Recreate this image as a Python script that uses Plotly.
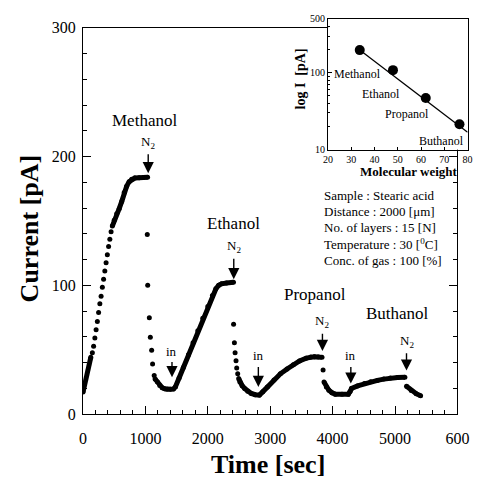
import plotly.graph_objects as go

# ---------------- response curve: time [s] vs current [pA] ----------------
# Densely sampled stretches (the dots merge into a thick trace)
meth_start_t = [0, 125]
meth_start_i = [17, 44]
meth_top_t = [470, 500, 540, 580, 620, 660, 700, 740, 780, 830, 900, 970, 1035]
meth_top_i = [146, 150.5, 155.5, 159.5, 165, 172, 177, 180.5, 182.3, 183.3, 183.6, 183.8, 183.9]
eth_t = [1155, 1193, 1230, 1270, 1310, 1348, 1400, 1450, 1480, 1540, 1608, 1690, 1763,
         1840, 1919, 2000, 2074, 2130, 2175, 2220, 2300, 2411]
eth_i = [27.2, 24.8, 22.2, 20.4, 19.6, 19.2, 19.2, 19.5, 21, 28, 36.2, 46, 55.3,
         64.7, 74.3, 83.5, 92, 97.3, 100, 101.1, 101.7, 102.3]
prop_t = [2495, 2514, 2550, 2592, 2640, 2697, 2760, 2826, 2880, 2955, 3060, 3163, 3270,
          3370, 3470, 3577, 3650, 3707, 3770, 3830]
prop_i = [27.5, 24.8, 22, 19.8, 17.6, 16, 15, 14.7, 17.2, 21, 26.5, 31.2, 35,
          38.3, 41.2, 43.4, 44.2, 44.4, 44.3, 44]
buth_t = [3862, 3900, 3940, 3990, 4043, 4150, 4251, 4280, 4303, 4400, 4510, 4610, 4718,
          4820, 4925, 5040, 5158]
buth_i = [24.8, 21, 18.5, 16.5, 15.4, 15.4, 15.4, 17.5, 19.8, 21.8, 23.6, 25, 26.1,
          27.1, 27.9, 28.3, 28.6]
tail_t = [5184, 5260, 5340, 5410]
tail_i = [21.5, 18.3, 15.8, 14.2]

# Sparse samples where the current changes fast (individual dots)
rise_t = [150, 170, 190, 210, 230, 250, 270, 290, 310, 330, 350, 370, 390, 410, 430, 450]
rise_i = [47.6, 52.7, 59, 65.4, 71.8, 78.8, 85.7, 91.5, 98.4, 104.7, 111.1, 117.4, 123.7,
          130.1, 135.7, 141.5]
fall1_t = [1030, 1037, 1063, 1079, 1100, 1115, 1141]
fall1_i = [139.5, 100, 74.8, 59.6, 49.5, 38.8, 29.9]
fall2_t = [2413, 2426, 2437, 2452, 2463, 2479]
fall2_i = [69.7, 55.3, 47.6, 41.3, 35.8, 31.2]
fall3_t = [3847]
fall3_i = [34.2]

# Gas switching marks: label, time, label height, arrow tip
mark_text = ["N<sub>2</sub>", "N<sub>2</sub>", "in", "in", "N<sub>2</sub>", "in", "N<sub>2</sub>"]
mark_t = [1045, 2416, 1426, 2810, 3837, 4292, 5184]
mark_label_i = [211, 130, 48.9, 45.1, 71.7, 45.1, 56.5]
mark_tip_i = [187, 104.7, 28.6, 21, 48.9, 23.6, 33.7]

# Gas names written over the curve
gas_names = ["Methanol", "Ethanol", "Propanol", "Buthanol"]
gas_name_t = [986, 2410, 3720, 5034]
gas_name_i = [227.8, 147.9, 93, 78]

# ---------------- inset: log I vs molecular weight ----------------
inset_mw = [33.6, 47.9, 62.0, 76.5]
inset_i = [197, 108, 47, 21.4]
fit_mw = [33.6, 80]
fit_i = [197, 16.8]

x_ticks = [0, 1000, 2000, 3000, 4000, 5000, 6000]
x_ticktext = ["0", "1000", "2000", "3000", "4000", "5000", "600"]

conditions = ["Sample : Stearic acid",
              "Distance : 2000 [\u03bcm]",
              "No. of layers : 15 [N]",
              "Temperature : 30 [<sup>0</sup>C]",
              "Conc. of gas : 100 [%]"]

# ---------------- page geometry (pixels) ----------------
W_PX, H_PX = 493, 481
L, R, T, B = 83, 10, 10, 67
AW, AH = W_PX - L - R, H_PX - T - B
AXB = H_PX - B  # bottom of plotting area in pixels


def xp(px):
    return (px - L) / AW


def yp(py):
    return (AXB - py) / AH


FONT = "Liberation Serif"


def joined(*pairs):
    xs, ys = [], []
    for t, i in pairs:
        if xs:
            xs.append(None)
            ys.append(None)
        xs += t
        ys += i
    return xs, ys


dense_x, dense_y = joined((meth_start_t, meth_start_i), (meth_top_t, meth_top_i),
                          (eth_t, eth_i), (prop_t, prop_i), (buth_t, buth_i),
                          (tail_t, tail_i))
dots_x = rise_t + fall1_t + fall2_t + fall3_t
dots_y = rise_i + fall1_i + fall2_i + fall3_i

fig = go.Figure()
fig.add_trace(go.Scatter(x=dense_x, y=dense_y, mode="lines+markers",
                         line=dict(color="black", width=5),
                         marker=dict(color="black", size=5),
                         hoverinfo="skip", showlegend=False))
fig.add_trace(go.Scatter(x=dots_x, y=dots_y, mode="markers",
                         marker=dict(color="black", size=5),
                         hoverinfo="skip", showlegend=False))

# inset
fig.add_trace(go.Scatter(x=fit_mw, y=fit_i, mode="lines", xaxis="x2", yaxis="y2",
                         line=dict(color="black", width=1.3),
                         hoverinfo="skip", showlegend=False))
fig.add_trace(go.Scatter(x=inset_mw, y=inset_i, mode="markers", xaxis="x2", yaxis="y2",
                         marker=dict(color="black", size=10),
                         hoverinfo="skip", showlegend=False))

ann = []
small = dict(family=FONT, size=13, color="black")
big = dict(family=FONT, size=17, color="black")

# switching marks: label with a down arrow to the curve
for txt, t, li, tip in zip(mark_text, mark_t, mark_label_i, mark_tip_i):
    ann.append(dict(x=t, y=tip, ax=t, ay=li, xref="x", yref="y", axref="x", ayref="y",
                    text=txt, font=small, showarrow=True, arrowhead=2, arrowsize=1.6,
                    arrowwidth=1.4, arrowcolor="black", startstandoff=2))

for txt, t, i in zip(gas_names, gas_name_t, gas_name_i):
    ann.append(dict(x=t, y=i, xref="x", yref="y", text=txt, showarrow=False,
                    font=big, xanchor="center", yanchor="middle"))

# inset labels
for txt, px, py in zip(gas_names, [340, 368.3, 392.3, 427.7], [66.7, 87.3, 108.3, 135]):
    ann.append(dict(x=xp(px), y=yp(py), xref="paper", yref="paper", text=txt,
                    showarrow=False, xanchor="left", yanchor="middle",
                    font=dict(family=FONT, size=12, color="black")))

# condition list
for txt, py in zip(conditions, [190.7, 207.3, 224, 240.3, 257.5]):
    ann.append(dict(x=xp(329), y=yp(py), xref="paper", yref="paper", text=txt,
                    showarrow=False, xanchor="left", yanchor="middle",
                    font=dict(family=FONT, size=13, color="black")))

# axis titles
ann.append(dict(x=xp(28), y=yp(225), xref="paper", yref="paper",
                text="<b>Current [pA]</b>", textangle=-90, showarrow=False,
                xanchor="center", yanchor="middle",
                font=dict(family=FONT, size=26, color="black")))
ann.append(dict(x=xp(274), y=yp(466), xref="paper", yref="paper",
                text="<b>Time [sec]</b>", showarrow=False,
                xanchor="center", yanchor="middle",
                font=dict(family=FONT, size=26, color="black")))
ann.append(dict(x=xp(306.7), y=yp(71.7), xref="paper", yref="paper",
                text="<b>log I  [pA]</b>", textangle=-90, showarrow=False,
                xanchor="center", yanchor="middle",
                font=dict(family=FONT, size=14, color="black")))
ann.append(dict(x=xp(419), y=yp(166.5), xref="paper", yref="paper",
                text="<b>Molecular weight</b>", showarrow=False,
                xanchor="center", yanchor="middle",
                font=dict(family=FONT, size=13, color="black")))

axis_common = dict(showgrid=False, zeroline=False, showline=True, linecolor="black",
                   linewidth=1.2, ticks="inside", tickcolor="black", tickwidth=1.2)

fig.update_layout(
    width=W_PX, height=H_PX,
    margin=dict(l=L, r=R, t=T, b=B, pad=0),
    paper_bgcolor="white", plot_bgcolor="white",
    font=dict(family=FONT, color="black"),
    xaxis=dict(axis_common, domain=[0, xp(469)], range=[0, 6000], mirror=True,
               tickvals=x_ticks, ticktext=x_ticktext, ticklen=8,
               tickfont=dict(family=FONT, size=16, color="black"),
               ticklabelstandoff=10,
               minor=dict(ticks="inside", ticklen=4, dtick=200, tick0=0,
                          tickcolor="black", tickwidth=1.2, showgrid=False)),
    yaxis=dict(axis_common, domain=[0, yp(20)], range=[0, 300], mirror="ticks",
               dtick=100, ticklen=8,
               tickfont=dict(family=FONT, size=16, color="black"),
               ticklabelstandoff=3,
               minor=dict(ticks="inside", ticklen=4, dtick=20, tick0=0,
                          tickcolor="black", tickwidth=1.2, showgrid=False)),
    xaxis2=dict(axis_common, domain=[xp(335.7), xp(479.5)], anchor="y2",
                range=[20, 80], dtick=10, mirror=True, ticklen=3, tickwidth=1,
                linewidth=1.2,
                tickfont=dict(family=FONT, size=10, color="black")),
    yaxis2=dict(axis_common, domain=[yp(144.3), yp(11)], anchor="x2", type="log",
                range=[1, 2.69897], mirror=True, ticklen=4, tickwidth=1,
                tickvals=[10, 100, 500], ticktext=["10", "100", "500"],
                tickfont=dict(family=FONT, size=10, color="black"),
                minor=dict(ticks="inside", ticklen=2, tickcolor="black",
                           tickvals=[20, 30, 40, 50, 60, 70, 80, 90, 200, 300, 400])),
    annotations=ann,
)

fig.write_html("out.html")
